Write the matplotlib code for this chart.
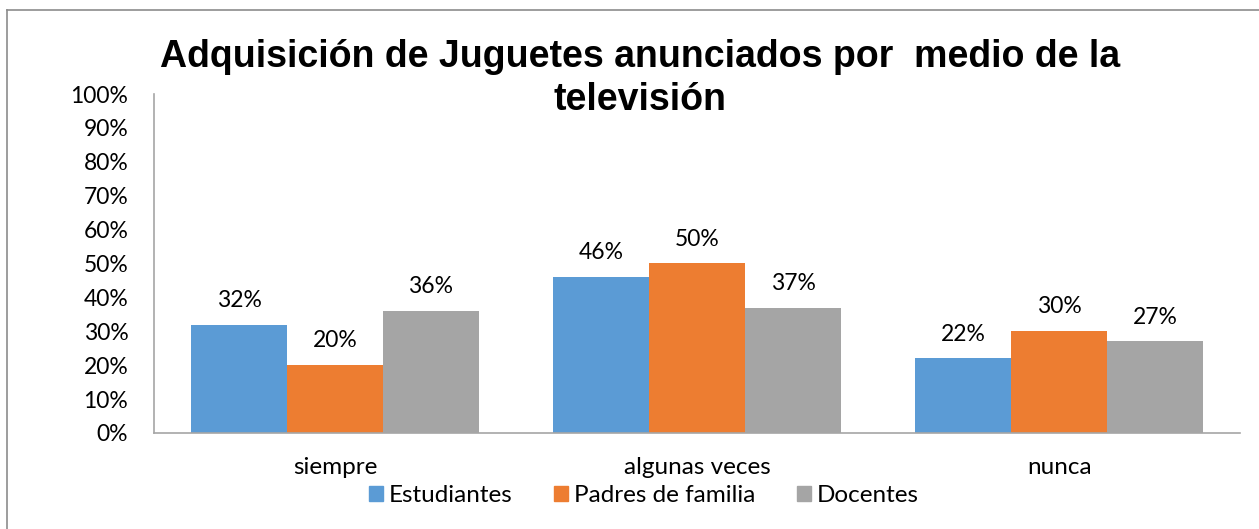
import numpy as np
import matplotlib.pyplot as plt
from matplotlib.lines import Line2D
import matplotlib.patches as mpatches

categories = ["siempre", "algunas veces", "nunca"]
series_names = ["Estudiantes", "Padres de familia", "Docentes"]
estudiantes = [0.32, 0.46, 0.22]
padres = [0.20, 0.50, 0.30]
docentes = [0.36, 0.37, 0.27]
colors = ["#5B9BD5", "#ED7D31", "#A5A5A5"]
y_ticks = [0, 0.1, 0.2, 0.3, 0.4, 0.5, 0.6, 0.7, 0.8, 0.9, 1.0]

body_font = "Lato"

fig = plt.figure(figsize=(12.59, 5.29), dpi=100)
ax = fig.add_axes([0.1223, 0.1815, 0.8627, 0.6408])

x = np.arange(len(categories))
width = 0.265
for i, (vals, name) in enumerate(zip([estudiantes, padres, docentes], series_names)):
    bars = ax.bar(x + (i - 1) * width, vals, width, color=colors[i], label=name)
    for b, v in zip(bars, vals):
        ax.annotate(f"{round(v * 100)}%", (b.get_x() + b.get_width() / 2, v),
                    xytext=(0, 10), textcoords="offset points",
                    ha="center", va="bottom", fontsize=16.5, family=body_font)

ax.set_xlim(-0.5, 2.5)
ax.set_ylim(0, 1)
ax.set_yticks(y_ticks)
ax.set_yticklabels([f"{round(t * 100)}%" for t in y_ticks], fontsize=16.5, family=body_font)
ax.set_xticks(x)
ax.set_xticklabels(categories, fontsize=17.5, family=body_font)
ax.tick_params(axis="x", length=0, pad=17)
ax.tick_params(axis="y", length=0, pad=18.5)
for s in ["top", "right"]:
    ax.spines[s].set_visible(False)
ax.spines["left"].set_color("#A6A6A6")
ax.spines["bottom"].set_color("#A6A6A6")
ax.spines["left"].set_linewidth(1.2)
ax.spines["bottom"].set_linewidth(1.2)

fig.text(0.508, 0.851, "Adquisición de Juguetes anunciados por  medio de la\ntelevisión",
         ha="center", va="center", fontsize=27, fontweight="bold",
         family="Liberation Sans", linespacing=1.26)

handles = [mpatches.Patch(color=c) for c in colors]
fig.legend(handles, series_names, loc="center", bbox_to_anchor=(0.5115, 0.064),
           ncol=3, frameon=False, prop={"family": body_font, "size": 17.5},
           handlelength=0.58, handleheight=0.58, handletextpad=0.25, columnspacing=1.7)

# frame lines of the chart area
fig.add_artist(Line2D([7 / 1259, 7 / 1259], [0, 1 - 10 / 529], color="#8C8C8C", lw=1.2))
fig.add_artist(Line2D([7 / 1259, 1], [1 - 10 / 529, 1 - 10 / 529], color="#8C8C8C", lw=1.2))

fig.savefig("out.png", dpi=100)
